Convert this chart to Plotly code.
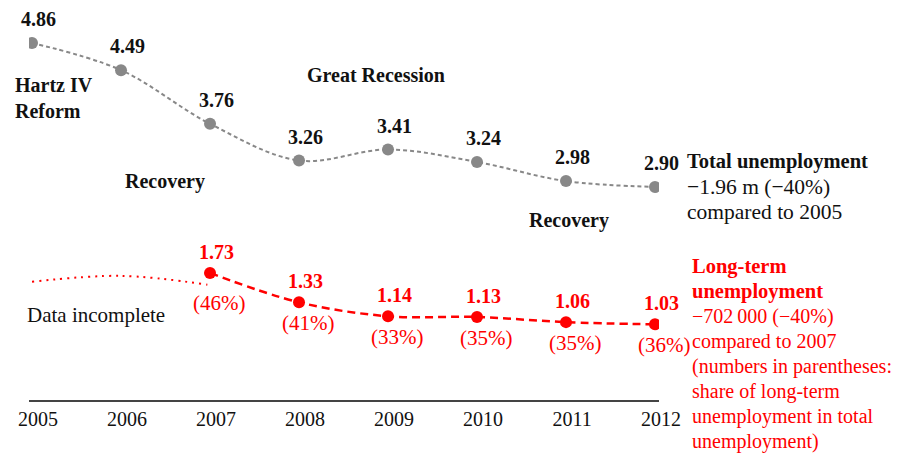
import plotly.graph_objects as go

years = [2005, 2006, 2007, 2008, 2009, 2010, 2011, 2012]
total_unemp = [4.86, 4.49, 3.76, 3.26, 3.41, 3.24, 2.98, 2.90]
lt_years = [2007, 2008, 2009, 2010, 2011, 2012]
longterm_unemp = [1.73, 1.33, 1.14, 1.13, 1.06, 1.03]
longterm_share = ["(46%)", "(41%)", "(33%)", "(35%)", "(35%)", "(36%)"]
incomplete_years = [2005, 2006, 2006.97]
incomplete_vals = [1.61, 1.69, 1.57]
tick_labels = [str(y) for y in years]

total_note = ["<b>Total unemployment</b>", "\u22121.96 m (\u221240%)", "compared to 2005"]
longterm_note = ["<b>Long-term</b>", "<b>unemployment</b>", "\u2212702\u2009000 (\u221240%)",
                 "compared to 2007", "(numbers in parentheses:", "share of long-term",
                 "unemployment in total", "unemployment)"]

FONT = "Liberation Serif"
RED = "#ff0000"
GRAY = "#888888"

OFF = 8  # page body margin in browser
W, H = 900 - OFF, 454 - OFF
PL, PT, PR, PB = 25, 18, 659, 400  # plot area in page pixels
ML, MT = PL - OFF, PT - OFF
MR, MB = W - (PR - OFF), H - (PB - OFF)
PW, PH = PR - PL, PB - PT
XR = [2004.966, 2012.045]
YR = [0, 5.2]


def pxp(px):
    return (px - PL) / PW


def pyp(py):
    return (PB - py) / PH


fig = go.Figure()

fig.add_trace(go.Scatter(
    x=incomplete_years, y=incomplete_vals, mode="lines",
    line=dict(color=RED, width=2, dash="2px,5px", shape="spline", smoothing=1.0),
    hoverinfo="skip", showlegend=False))

fig.add_trace(go.Scatter(
    x=years, y=total_unemp, mode="lines+markers",
    line=dict(color=GRAY, width=2, dash="4px,3px", shape="spline", smoothing=1.0),
    marker=dict(color=GRAY, size=12),
    showlegend=False))

fig.add_trace(go.Scatter(
    x=lt_years, y=longterm_unemp, mode="lines+markers",
    line=dict(color=RED, width=2.5, dash="8px,5px", shape="spline", smoothing=1.0),
    marker=dict(color=RED, size=12),
    showlegend=False))

ann = []
for x, v in zip(years, total_unemp):
    ann.append(dict(x=x, y=v, text=f"<b>{v:.2f}</b>", showarrow=False,
                    xshift=6, yshift=24, font=dict(family=FONT, size=20, color="#111")))
for i, (x, v, s) in enumerate(zip(lt_years, longterm_unemp, longterm_share)):
    ann.append(dict(x=x, y=v, text=f"<b>{v:.2f}</b>", showarrow=False,
                    xshift=6, yshift=21, font=dict(family=FONT, size=20, color=RED)))
    ann.append(dict(x=x, y=v, text=s, showarrow=False,
                    xshift=9, yshift=-30 if i == 0 else -21,
                    font=dict(family=FONT, size=21, color=RED)))


def label(px, py, text, anchor="center", color="#111", size=20):
    ann.append(dict(xref="paper", yref="paper", x=pxp(px), y=pyp(py), text=text,
                    showarrow=False, xanchor=anchor, yanchor="middle", align="left",
                    font=dict(family=FONT, size=size, color=color)))


label(9, 98, "<b>Hartz IV<br>Reform</b>", anchor="left")
label(374, 75, "<b>Great Recession</b>")
label(162, 181, "<b>Recovery</b>")
label(568, 221, "<b>Recovery</b>")
label(92, 315, "Data incomplete", size=21)

for i, t in enumerate(total_note):
    label(685, 162 + 25 * i, t, anchor="left", size=20.5 if "<b>" in t else 21.5)
for i, t in enumerate(longterm_note):
    label(690, 266 + 25 * i, t, anchor="left", color=RED,
          size=20.5 if "<b>" in t else 20)

fig.update_layout(
    width=W, height=H,
    margin=dict(l=ML, r=MR, t=MT, b=MB, pad=0),
    paper_bgcolor="white", plot_bgcolor="white",
    annotations=ann,
    xaxis=dict(range=XR, tickvals=years, ticktext=tick_labels, showgrid=False,
               zeroline=False, showline=True, linecolor="#444", linewidth=2,
               ticks="", ticklabelshift=6, ticklabelstandoff=0,
               tickfont=dict(family=FONT, size=20, color="#111")),
    yaxis=dict(range=YR, visible=False, showgrid=False, zeroline=False),
)

fig.write_html("out.html")
